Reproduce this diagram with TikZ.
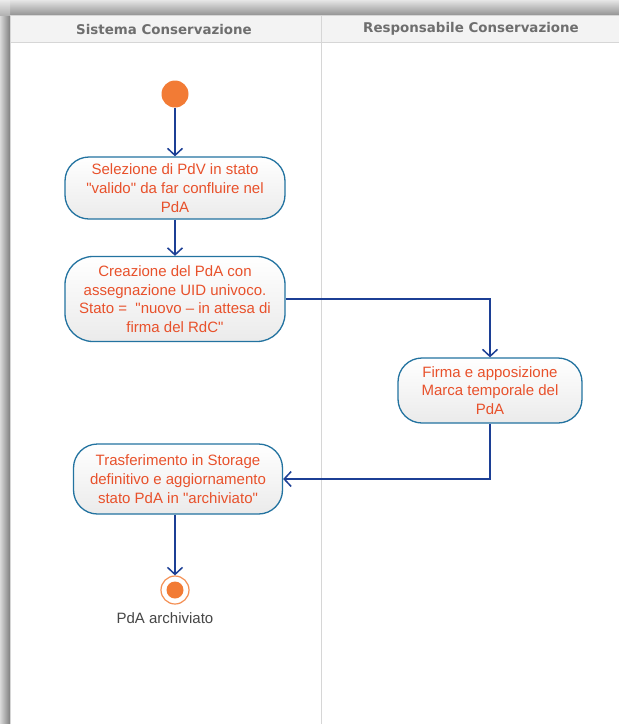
\documentclass[tikz,border=0pt]{standalone}
\usepackage{fontspec}
\setmainfont{Liberation Sans}[Ligatures=TeXOff]
\newfontfamily\headfont{DejaVu Sans}[Ligatures=TeXOff]
\usetikzlibrary{arrows.meta}
\definecolor{laneline}{HTML}{D6D6D6}
\definecolor{headfill}{HTML}{F3F3F3}
\definecolor{headtext}{HTML}{6E6E6E}
\definecolor{labeltext}{HTML}{474747}
\definecolor{actborder}{HTML}{2373A0}
\definecolor{acttext}{HTML}{E8512B}
\definecolor{flow}{HTML}{1C3F95}
\definecolor{startorange}{HTML}{F27B35}
\begin{document}
\begin{tikzpicture}[x=1pt,y=-1pt,
  action/.style={draw=actborder, line width=1.3pt, top color=white, bottom color=black!8,
    rounded corners=24pt, align=center, text=acttext, font=\fontsize{15}{18.7}\selectfont, inner sep=0pt},
  flowline/.style={draw=flow, line width=1.5pt, -{Straight Barb[length=7pt,width=15pt]}},
  lanehead/.style={font=\headfont\bfseries\fontsize{13.4}{15}\selectfont, text=headtext}
]
\useasboundingbox (0,0) rectangle (619,724);
% shadow
\shade[left color=black!15, right color=black!50] (0,15) rectangle (10,724);
\shade[top color=black!10, bottom color=black!42] (10,0) rectangle (619,15);
\shade[top color=black!8, bottom color=black!30] (0,0) rectangle (10,15);
% lanes
\fill[white] (10,15) rectangle (619,724);
\fill[headfill] (10,15) rectangle (619,42);
\draw[laneline] (10,42) -- (619,42);
\draw[laneline] (10,15) -- (619,15);
\draw[laneline] (10,15) -- (10,724);
\draw[laneline, line width=1pt] (321,15) -- (321,724);
\node[lanehead] (h1) at (164,29) {Sistema Conservazione};
\node[lanehead] (h2) at (471,29) {Responsabile Conservazione};
% nodes
\node[circle, fill=startorange, minimum size=27pt, inner sep=0pt] (start) at (175,94) {};
\node[action, minimum width=220pt, minimum height=62pt] (n1) at (175,188)
  {Selezione di PdV in stato\\"valido" da far confluire nel\\PdA};
\node[action, minimum width=220pt, minimum height=85pt, rounded corners=28pt] (n2) at (175,299)
  {Creazione del PdA con\\assegnazione UID univoco.\\Stato =\ \ "nuovo – in attesa di\\firma del RdC"};
\node[action, minimum width=184pt, minimum height=65pt] (n3) at (490,390.5)
  {Firma e apposizione\\Marca temporale del\\PdA};
\node[action, minimum width=209pt, minimum height=70pt] (n4) at (178,479)
  {Trasferimento in Storage\\definitivo e aggiornamento\\stato PdA in "archiviato"};
\node[circle, draw=startorange!85, line width=1.2pt, fill=white, minimum size=28pt, inner sep=0pt] (end) at (175,590) {};
\fill[startorange] (end.center) circle (8.5pt);
\node[font=\fontsize{15}{17}\selectfont, text=labeltext] (endlabel) at (165,618) {PdA archiviato};
% flows
\draw[flowline] (start) -- (n1);
\draw[flowline] (n1) -- (n2);
\draw[flowline] (n2.east) -| (n3.north);
\draw[flowline] (n3.south) |- (n4.east);
\draw[flowline] (end |- n4.south) -- (end);
\end{tikzpicture}
\end{document}
